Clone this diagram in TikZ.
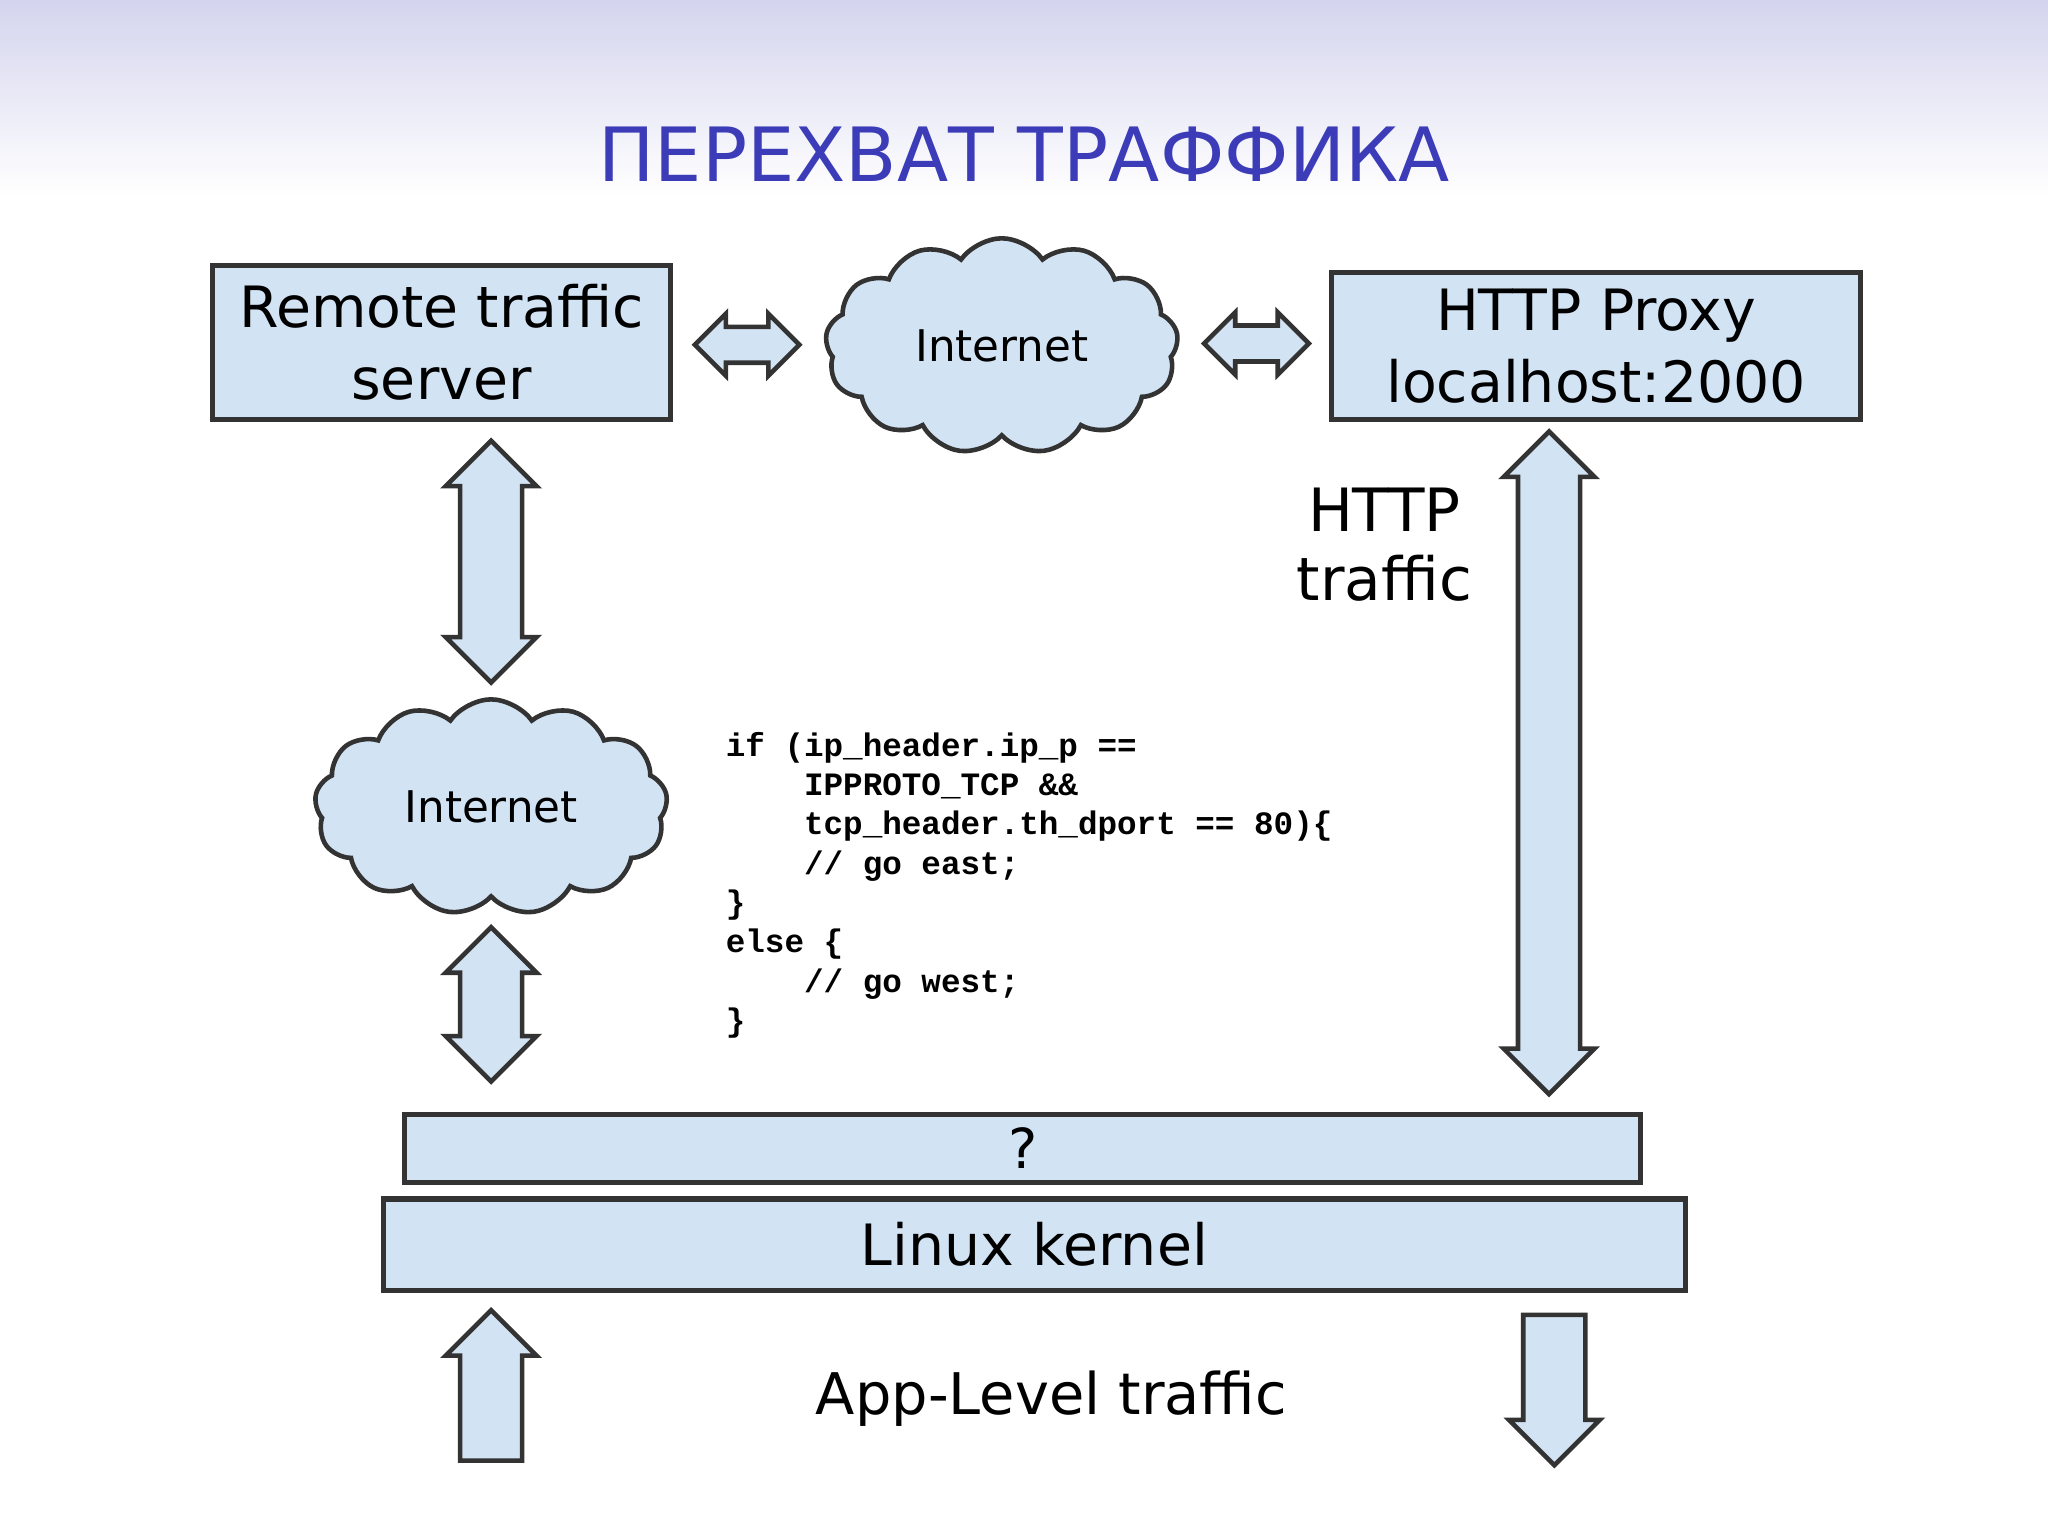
\documentclass[tikz,border=0pt]{standalone}
\usepackage{fontspec}
\setmainfont{DejaVu Sans}
\newfontfamily\codefont{Liberation Mono}
\usetikzlibrary{shapes.arrows,shapes.symbols}
\definecolor{boxfill}{RGB}{210,227,244}
\definecolor{titleblue}{RGB}{60,60,185}
\definecolor{lav}{RGB}{212,212,238}
\tikzset{
 box/.style={draw=black!80,line width=1.1pt,fill=boxfill,inner sep=0pt,align=center,font=\fontsize{12.4}{15.5}\selectfont},
 darr/.style={double arrow,draw=black!80,line width=1pt,fill=boxfill,inner sep=0.22cm,double arrow head extend=0.11cm,minimum height=#1},
 harr/.style={double arrow,draw=black!80,line width=1pt,fill=boxfill,inner sep=0.12cm,double arrow head extend=0.1cm,minimum height=#1},
 sarr/.style={single arrow,draw=black!80,line width=1pt,fill=boxfill,inner sep=0.22cm,single arrow head extend=0.11cm,minimum height=#1},
 cl/.style={cloud,cloud puffs=13,cloud puff arc=110,aspect=1.6,draw=black!80,line width=1pt,fill=boxfill,minimum width=2.7cm,minimum height=1.65cm,font=\fontsize{9.5}{11}\selectfont},
}
\begin{document}
\begin{tikzpicture}[x=0.01cm,y=-0.01cm]
\useasboundingbox (0,0) rectangle (1568,1176);
\shade[top color=lav,bottom color=white] (0,0) rectangle (1568,150);
\node[text=titleblue,font=\fontsize{16.3}{20}\selectfont] (title) at (784,118) {ПЕРЕХВАТ ТРАФФИКА};
\node[box,minimum width=3.5cm,minimum height=1.18cm] (rts) at (338,262) {Remote traffic\\server};
\node[box,minimum width=4.05cm,minimum height=1.13cm] (proxy) at (1222,265) {HTTP Proxy\\localhost:2000};
\node[cl] (inet1) at (767,265) {Internet};
\node[cl] (inet2) at (376,618) {Internet};
\node[harr=0.8cm] (h1) at (572,264) {};
\node[harr=0.8cm] (h2) at (962,263) {};
\node[darr=1.85cm,rotate=90] (v1) at (376,430) {};
\node[darr=1.18cm,rotate=90] (v2) at (376,769) {};
\node[darr=5.07cm,rotate=90] (v3) at (1186,584) {};
\node[align=center,font=\fontsize{13}{15}\selectfont] (ht) at (1060,417) {HTTP\\traffic};
\node[anchor=north west,align=left,inner sep=0pt,font=\codefont\bfseries\fontsize{7.1}{8.55}\selectfont] (code) at (555,560) {%
if (ip\_header.ip\_p ==\\
\ \ \ \ IPPROTO\_TCP \&\&\\
\ \ \ \ tcp\_header.th\_dport == 80)\{\\
\ \ \ \ // go east;\\
\}\\
else \{\\
\ \ \ \ // go west;\\
\}};
\node[box,minimum width=9.46cm,minimum height=0.52cm,font=\fontsize{12}{14}\selectfont] (q) at (783,879) {?};
\node[box,minimum width=9.96cm,minimum height=0.70cm] (lk) at (792,953) {Linux kernel};
\node[sarr=1.15cm,rotate=90,anchor=tail] (up) at (376,1120) {};
\node[sarr=1.15cm,rotate=-90,anchor=tail] (down) at (1190,1005) {};
\node[font=\fontsize{12.5}{15}\selectfont] (app) at (805,1071) {App-Level traffic};
\end{tikzpicture}
\end{document}
